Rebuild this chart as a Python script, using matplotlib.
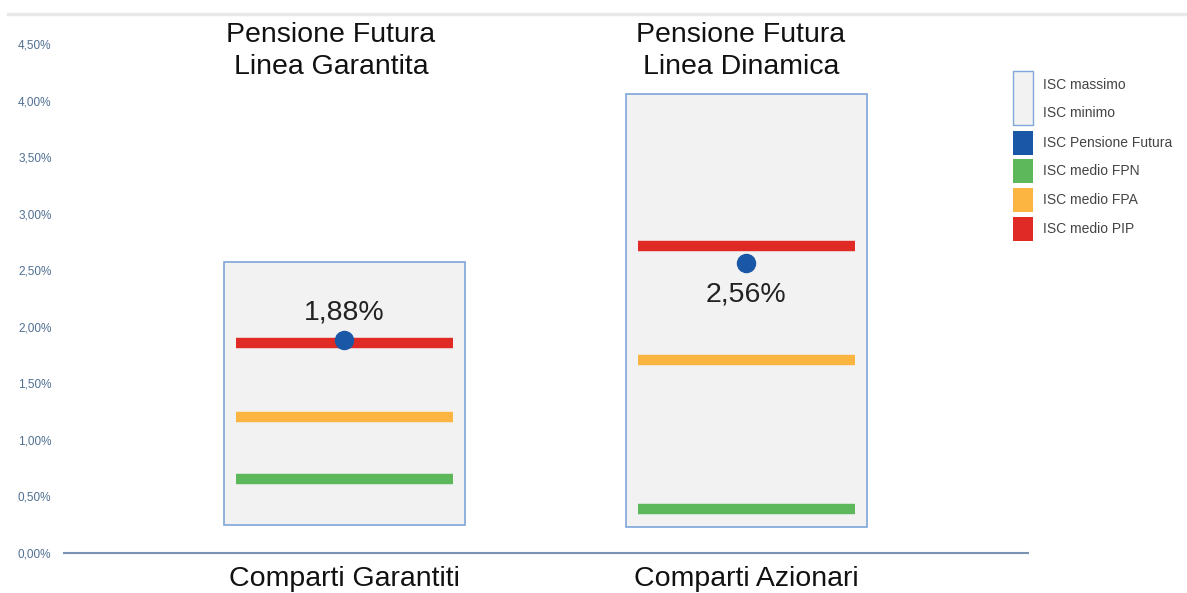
import matplotlib.pyplot as plt
from matplotlib.patches import Rectangle
import numpy as np

plt.rcParams['font.family'] = ['Liberation Sans', 'DejaVu Sans']

# Data (percent)
categories = ['Comparti Garantiti', 'Comparti Azionari']
titles = ['Pensione Futura\nLinea Garantita', 'Pensione Futura\nLinea Dinamica']
isc_max = [2.57, 4.06]
isc_min = [0.25, 0.23]
isc_pf = [1.88, 2.56]
isc_fpn = [0.65, 0.39]
isc_fpa = [1.20, 1.71]
isc_pip = [1.86, 2.71]
yticks = np.arange(0, 4.51, 0.5)

c_box = '#f2f2f2'
c_edge = '#7ea6d8'
c_pf = '#1a57a6'
c_fpn = '#5cb85a'
c_fpa = '#fbb540'
c_pip = '#e02a26'

W, H = 1187, 593
fig = plt.figure(figsize=(W / 100, H / 100), dpi=100)
ax = fig.add_axes([64 / W, (H - 553) / H, (1028 - 64) / W, (553 - 44) / H])
ax.patch.set_alpha(0)

x = np.arange(len(categories))
box_w = 0.6
line_w = 0.54

for i in range(len(categories)):
    ax.add_patch(Rectangle((x[i] - box_w / 2, isc_min[i]), box_w, isc_max[i] - isc_min[i],
                           facecolor=c_box, edgecolor=c_edge, lw=1.2, zorder=1))

ax.hlines(isc_fpn, x - line_w / 2, x + line_w / 2, colors=c_fpn, lw=7.5, zorder=2)
ax.hlines(isc_fpa, x - line_w / 2, x + line_w / 2, colors=c_fpa, lw=7.5, zorder=2)
ax.hlines(isc_pip, x - line_w / 2, x + line_w / 2, colors=c_pip, lw=7.5, zorder=2)
ax.plot(x, isc_pf, 'o', color=c_pf, ms=13, zorder=3)

# value labels
ax.text(x[0], isc_pf[0] + 0.13, '1,88%', ha='center', va='bottom', fontsize=20.5, color='#222222')
ax.text(x[1], isc_pf[1] - 0.16, '2,56%', ha='center', va='top', fontsize=20.5, color='#222222')

ax.set_xlim(-0.697, 1.701)
ax.set_ylim(0, 4.5)
ax.set_yticks(yticks)
ax.set_yticklabels([f'{v:.2f}%'.replace('.', ',') for v in yticks], fontsize=8.5, color='#4f6f92')
ax.set_xticks([])
for s in ['top', 'right', 'left']:
    ax.spines[s].set_visible(False)
ax.spines['bottom'].set_color('#7a93b0')
ax.spines['bottom'].set_linewidth(1.5)
ax.tick_params(axis='y', length=0, pad=9)

# overlay for titles, category labels and legend in pixel coords
ov = fig.add_axes([0, 0, 1, 1], zorder=5)
ov.set_xlim(0, W)
ov.set_ylim(H, 0)
ov.axis('off')
ov.plot([8, W], [14, 14], color='#e8e8e8', lw=2.5)

cat_x = [344, 746]
title_x = [331, 741]
for i in range(len(categories)):
    ov.text(title_x[i], 51, titles[i], ha='center', va='center', fontsize=20.5,
            color='#111111', linespacing=1.3)
    ov.text(cat_x[i], 579, categories[i], ha='center', va='center', fontsize=20.5, color='#111111')

# legend
ov.add_patch(Rectangle((1013, 71), 20, 54, facecolor=c_box, edgecolor=c_edge, lw=1))
items = [('ISC Pensione Futura', c_pf, 143), ('ISC medio FPN', c_fpn, 171),
         ('ISC medio FPA', c_fpa, 200), ('ISC medio PIP', c_pip, 229)]
for lab, col, yy in items:
    ov.add_patch(Rectangle((1013, yy - 12), 20, 24, facecolor=col, edgecolor='none'))
    ov.text(1043, yy, lab, va='center', fontsize=10, color='#444444')
ov.text(1043, 85, 'ISC massimo', va='center', fontsize=10, color='#444444')
ov.text(1043, 113, 'ISC minimo', va='center', fontsize=10, color='#444444')

fig.savefig('out.png', dpi=100)
